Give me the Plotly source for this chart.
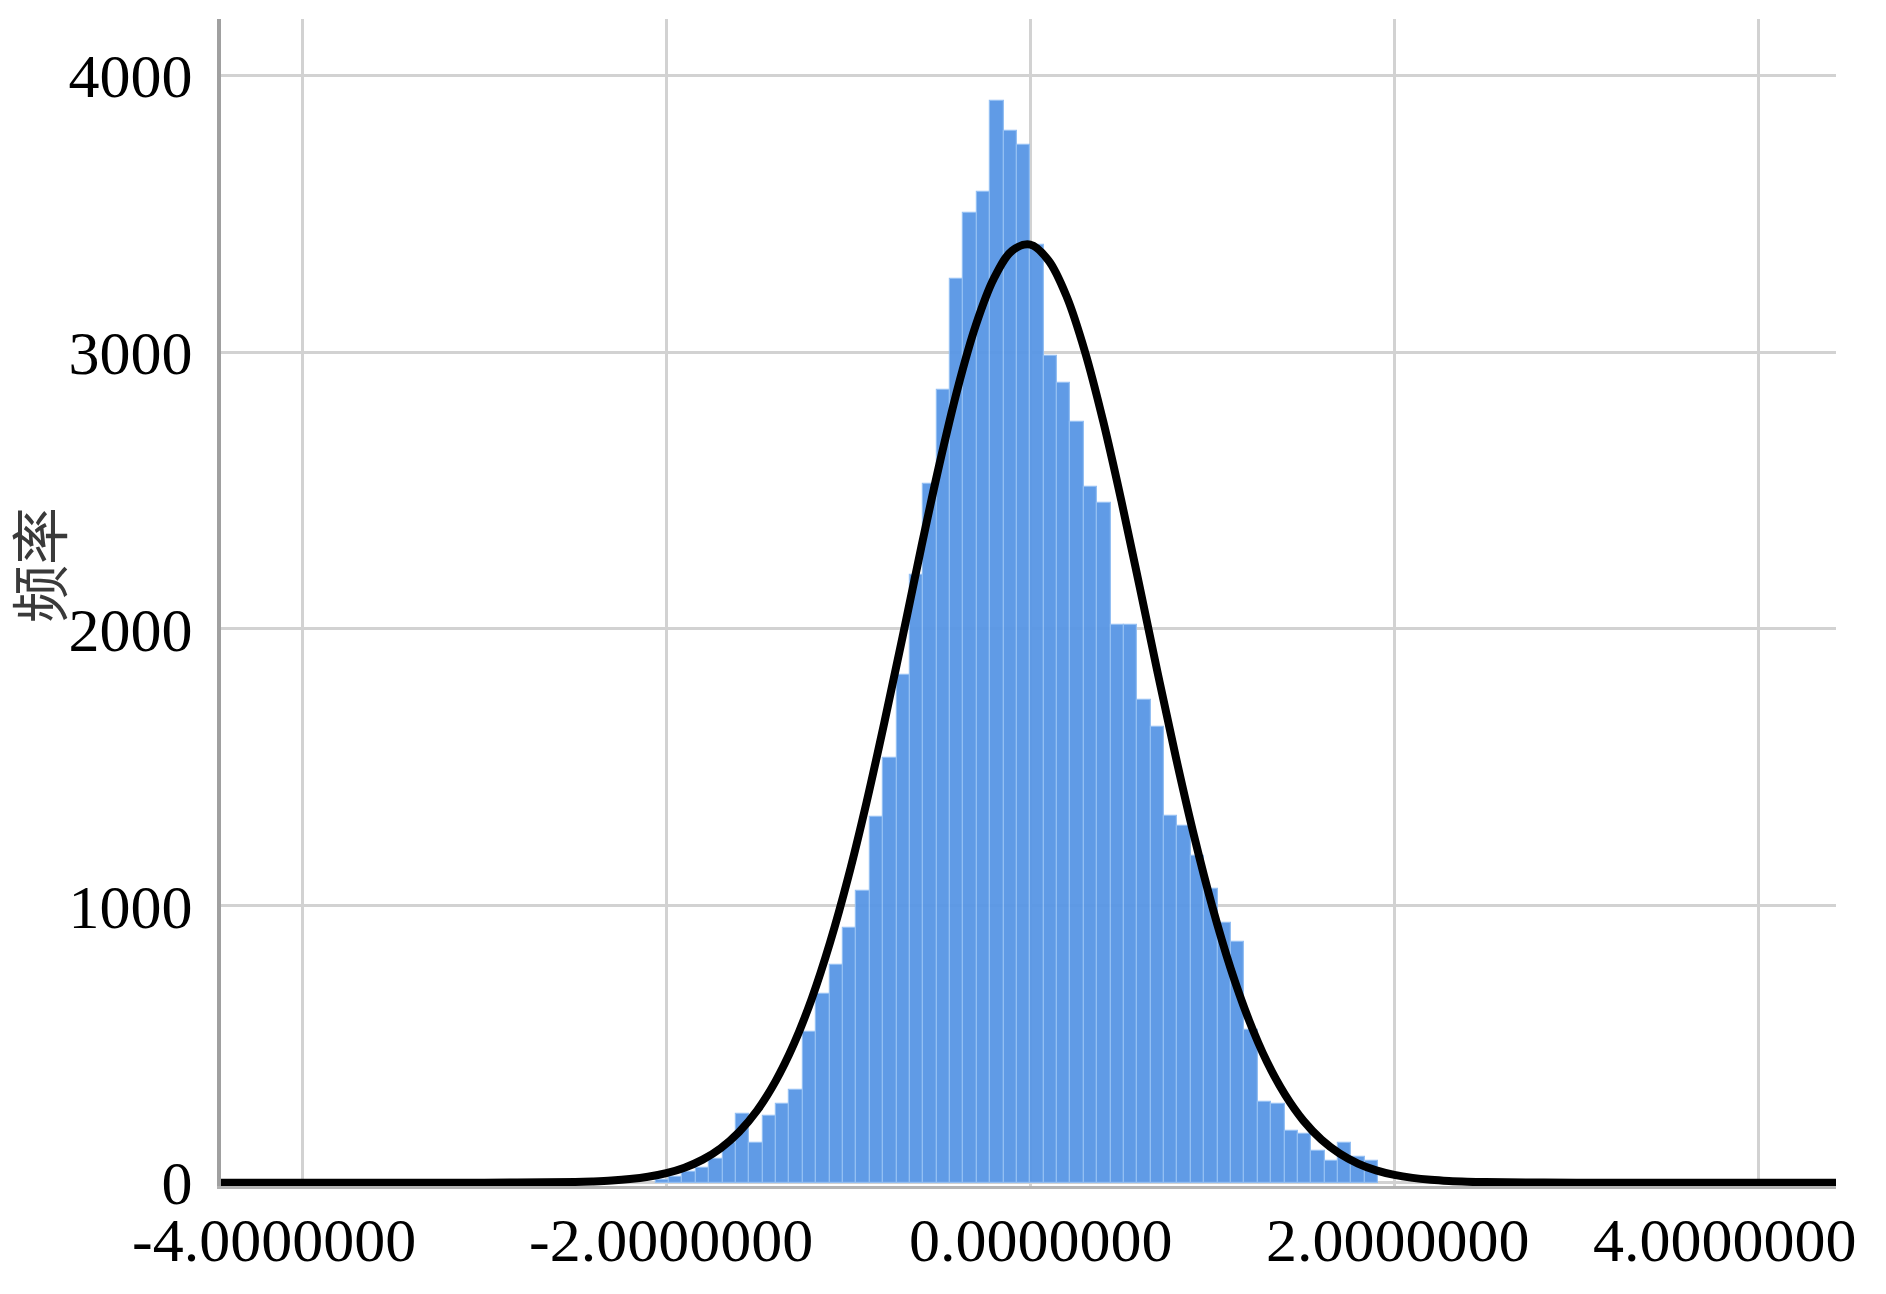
import plotly.graph_objects as go

# histogram counts (bins of width 0.0735, first bin centred at -2.02)
bin_width = 0.0735
first_center = -2.02125
counts = [8, 20, 40, 54, 84, 144, 249, 144, 242, 284, 335, 545,
          680, 785, 920, 1055, 1322, 1534, 1834, 2195,
          2522, 2862, 3263, 3502, 3578, 3908, 3800, 3748,
          3385, 2985, 2888, 2748, 2512, 2456, 2013, 2013,
          1742, 1646, 1325, 1290, 1180, 1059, 939, 868,
          553, 290, 285, 187, 177, 116, 80, 143, 94, 77]

# normal curve as drawn on the chart
curve_x = [-4.45, -3.5, -3.0, -2.5, -2.4, -2.3, -2.2, -2.1, -2.0, -1.9, -1.8, -1.7, -1.6,
           -1.5, -1.4, -1.3, -1.2, -1.1, -1.0, -0.9, -0.8, -0.7, -0.6, -0.5, -0.4,
           -0.3, -0.2, -0.1, 0.0, 0.1, 0.2, 0.3, 0.4, 0.5, 0.6, 0.7, 0.8,
           0.9, 1.0, 1.1, 1.2, 1.3, 1.4, 1.5, 1.6, 1.7, 1.8, 1.9, 2.0,
           2.1, 2.2, 2.3, 2.4, 2.5, 3.0, 3.5, 4.45]
curve_y = [0, 0, 0, 2.5, 4.5, 7.7, 13, 21.4, 34.5, 54.2, 83.2, 124.8, 183,
           261.6, 366, 499.4, 666, 867.8, 1104, 1373, 1668, 1977, 2292, 2593, 2867,
           3096, 3266, 3366, 3388, 3331, 3200, 3002, 2751, 2463, 2154, 1840, 1535,
           1251, 996, 774.6, 589, 436.6, 317, 224.2, 155, 104.8, 69.1, 44.6, 28.1,
           17.3, 10.4, 6.1, 3.5, 2.0, 0, 0, 0]

y_tick_vals = [0, 1000, 2000, 3000, 4000]
y_tick_text = ["0", "1000", "2000", "3000", "4000"]
x_tick_vals = [-4, -2, 0, 2, 4]
x_tick_text = ["-4.0000000", "-2.0000000", "0.0000000", "2.0000000", "4.0000000"]
x_label_shift = [-28, 5, 11, 4, -33]

fig = go.Figure()

fig.add_trace(
    go.Bar(
        y=counts,
        x0=first_center,
        dx=bin_width,
        width=bin_width,
        marker=dict(color='#5a97e5', line=dict(color='#8fbdf3', width=1.2)),
        opacity=0.96,
        showlegend=False,
    )
)

fig.add_trace(
    go.Scatter(
        x=curve_x,
        y=curve_y,
        mode='lines',
        line=dict(color='black', width=8, shape='spline', smoothing=1),
        showlegend=False,
    )
)

serif = "Liberation Serif, Times New Roman, serif"

fig.update_layout(
    width=1886,
    height=1294,
    margin=dict(l=213, r=58, t=11, b=116),
    paper_bgcolor='white',
    plot_bgcolor='white',
    bargap=0,
    font=dict(family=serif, size=62, color='black'),
    xaxis=dict(
        range=[-4.446, 4.426],
        tickvals=x_tick_vals,
        showticklabels=False,
        showgrid=True,
        gridcolor='#d2d2d2',
        gridwidth=2.5,
        zeroline=False,
        showline=True,
        linecolor='#b4b4b4',
        linewidth=3,
    ),
    yaxis=dict(
        range=[-12, 4203],
        tickvals=y_tick_vals,
        ticktext=y_tick_text,
        tickfont=dict(family=serif, size=62, color='black'),
        ticklabelstandoff=12,
        showgrid=True,
        gridcolor='#d2d2d2',
        gridwidth=2.5,
        zeroline=False,
        showline=True,
        linecolor='#a0a0a0',
        linewidth=4,
    ),
)

for xv, txt, sh in zip(x_tick_vals, x_tick_text, x_label_shift):
    fig.add_annotation(
        x=xv, y=-0.046, xref='x', yref='paper',
        text=txt, showarrow=False, xanchor='center', yanchor='middle',
        xshift=sh,
        font=dict(family=serif, size=62, color='black'),
    )

fig.add_annotation(
    x=-0.114, y=0.532, xref='paper', yref='paper',
    text='频率', textangle=-90, showarrow=False,
    xanchor='center', yanchor='middle',
    font=dict(family='Noto Sans CJK SC', size=58, color='#3a3a3a'),
)

fig.write_html("out.html")
